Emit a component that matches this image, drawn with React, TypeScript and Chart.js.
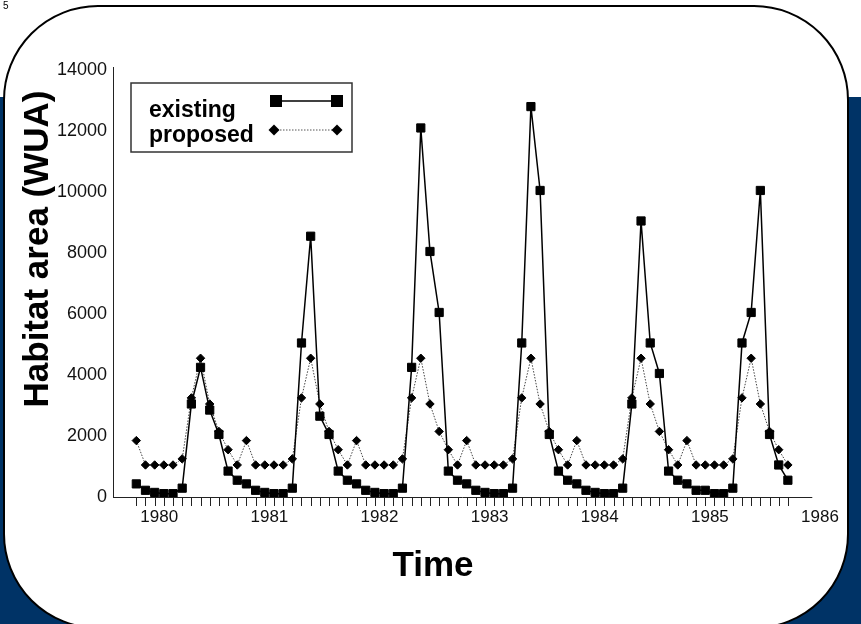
import React, { useEffect, useRef } from 'react';
import { Chart, registerables } from 'chart.js';

Chart.register(...registerables);

// ---- data -----------------------------------------------------------
const SERIES_NAMES = ['existing', 'proposed'];
const MONTHS = ['Oct', 'Nov', 'Dec', 'Jan', 'Feb', 'Mar', 'Apr', 'May', 'Jun', 'Jul', 'Aug', 'Sep'];
const WATER_YEARS = [1980, 1981, 1982, 1983, 1984, 1985];
const YEAR_TICKS = [1980, 1981, 1982, 1983, 1984, 1985, 1986];
const Y_TICKS = [0, 2000, 4000, 6000, 8000, 10000, 12000, 14000];

// existing habitat area (WUA), one array per water year (Oct..Sep)
const existing1980 = [430, 220, 150, 110, 110, 290, 3050, 4250, 2850, 2050, 850, 550];
const existing1981 = [430, 220, 150, 110, 110, 290, 5050, 8550, 2650, 2050, 850, 550];
const existing1982 = [430, 220, 150, 110, 110, 290, 4250, 12100, 8050, 6050, 850, 550];
const existing1983 = [430, 220, 150, 110, 110, 290, 5050, 12800, 10050, 2050, 850, 550];
const existing1984 = [430, 220, 150, 110, 110, 290, 3050, 9050, 5050, 4050, 850, 550];
const existing1985 = [430, 220, 220, 110, 110, 290, 5050, 6050, 10050, 2050, 1050, 550];

// proposed habitat area (WUA)
const proposed1980 = [1850, 1050, 1050, 1050, 1050, 1250, 3250, 4550, 3050, 2150, 1550, 1050];
const proposed1981 = [1850, 1050, 1050, 1050, 1050, 1250, 3250, 4550, 3050, 2150, 1550, 1050];
const proposed1982 = [1850, 1050, 1050, 1050, 1050, 1250, 3250, 4550, 3050, 2150, 1550, 1050];
const proposed1983 = [1850, 1050, 1050, 1050, 1050, 1250, 3250, 4550, 3050, 2150, 1550, 1050];
const proposed1984 = [1850, 1050, 1050, 1050, 1050, 1250, 3250, 4550, 3050, 2150, 1550, 1050];
const proposed1985 = [1850, 1050, 1050, 1050, 1050, 1250, 3250, 4550, 3050, 2150, 1550, 1050];

const existing = [
  ...existing1980, ...existing1981, ...existing1982,
  ...existing1983, ...existing1984, ...existing1985,
];
const proposed = [
  ...proposed1980, ...proposed1981, ...proposed1982,
  ...proposed1983, ...proposed1984, ...proposed1985,
];

// month positions in decimal years (mid-month), Oct of previous calendar year .. Sep
const monthX: number[] = [];
WATER_YEARS.forEach((wy) => {
  MONTHS.forEach((_, m) => {
    monthX.push(wy - 1 + (9 + m + 0.5) / 12);
  });
});

// axis configuration
const X_MIN = 1979.58;
const X_MAX = 1986;
const X_AXIS_END = 1985.93;
const FONT = '"Liberation Sans", Arial, Helvetica, sans-serif';

const framePlugin = {
  id: 'frame',
  beforeDraw(chart: any) {
    const { ctx, width, height } = chart;
    ctx.save();
    ctx.fillStyle = '#ffffff';
    ctx.fillRect(0, 0, width, height);
    ctx.fillStyle = '#003366';
    ctx.fillRect(0, 97, width, height - 97);
    // rounded white panel
    const x0 = 4, y0 = 6, x1 = 848, y1 = 628, r = 94;
    ctx.beginPath();
    ctx.moveTo(x0 + r, y0);
    ctx.lineTo(x1 - r, y0);
    ctx.arcTo(x1, y0, x1, y0 + r, r);
    ctx.lineTo(x1, y1 - r);
    ctx.arcTo(x1, y1, x1 - r, y1, r);
    ctx.lineTo(x0 + r, y1);
    ctx.arcTo(x0, y1, x0, y1 - r, r);
    ctx.lineTo(x0, y0 + r);
    ctx.arcTo(x0, y0, x0 + r, y0, r);
    ctx.closePath();
    ctx.fillStyle = '#ffffff';
    ctx.fill();
    ctx.lineWidth = 2;
    ctx.strokeStyle = '#000000';
    ctx.stroke();
    // slide number
    ctx.fillStyle = '#000';
    ctx.font = `10px ${FONT}`;
    ctx.textAlign = 'left';
    ctx.textBaseline = 'top';
    ctx.fillText('5', 3, 1);
    ctx.restore();
  },
};

function drawSquare(ctx: CanvasRenderingContext2D, x: number, y: number, s: number) {
  ctx.fillRect(x - s / 2, y - s / 2, s, s);
}
function drawDiamond(ctx: CanvasRenderingContext2D, x: number, y: number, r: number) {
  ctx.beginPath();
  ctx.moveTo(x, y - r);
  ctx.lineTo(x + r, y);
  ctx.lineTo(x, y + r);
  ctx.lineTo(x - r, y);
  ctx.closePath();
  ctx.fill();
}

const overlayPlugin = {
  id: 'overlay',
  afterDraw(chart: any) {
    const { ctx, chartArea } = chart;
    const xs = chart.scales.x;
    ctx.save();
    // small extension of the y axis line above the top tick
    ctx.strokeStyle = '#222';
    ctx.lineWidth = 1;
    ctx.beginPath();
    ctx.moveTo(chartArea.left + 0.5, chartArea.top - 3);
    ctx.lineTo(chartArea.left + 0.5, chartArea.top + 1);
    ctx.stroke();
    // x axis line
    ctx.beginPath();
    ctx.moveTo(chartArea.left, chartArea.bottom + 0.5);
    ctx.lineTo(xs.getPixelForValue(X_AXIS_END), chartArea.bottom + 0.5);
    ctx.stroke();
    // monthly tick marks
    ctx.beginPath();
    monthX.forEach((v) => {
      const px = Math.round(xs.getPixelForValue(v)) + 0.5;
      ctx.moveTo(px, chartArea.bottom);
      ctx.lineTo(px, chartArea.bottom + 9);
    });
    ctx.stroke();

    // axis titles
    ctx.fillStyle = '#000';
    ctx.font = `bold 35px ${FONT}`;
    ctx.textAlign = 'center';
    ctx.textBaseline = 'middle';
    ctx.save();
    ctx.translate(38, 249);
    ctx.rotate(-Math.PI / 2);
    ctx.fillText('Habitat area (WUA)', 0, 0);
    ctx.restore();
    ctx.font = `bold 35px ${FONT}`;
    ctx.fillText('Time', 433, 566);

    // legend
    ctx.lineWidth = 1.5;
    ctx.strokeStyle = '#333';
    ctx.fillStyle = '#fff';
    ctx.fillRect(131, 83, 221, 69);
    ctx.strokeRect(131, 83, 221, 69);
    ctx.fillStyle = '#000';
    ctx.font = `bold 23px ${FONT}`;
    ctx.textAlign = 'left';
    ctx.textBaseline = 'alphabetic';
    ctx.fillText(SERIES_NAMES[0], 149, 117);
    ctx.fillText(SERIES_NAMES[1], 149, 142);
    // existing sample
    ctx.strokeStyle = '#000';
    ctx.lineWidth = 1.5;
    ctx.beginPath();
    ctx.moveTo(276, 101);
    ctx.lineTo(337, 101);
    ctx.stroke();
    drawSquare(ctx, 276, 101, 12);
    drawSquare(ctx, 337, 101, 12);
    // proposed sample
    ctx.strokeStyle = '#555';
    ctx.lineWidth = 1;
    ctx.setLineDash([1.5, 1.5]);
    ctx.beginPath();
    ctx.moveTo(274, 130);
    ctx.lineTo(337, 130);
    ctx.stroke();
    ctx.setLineDash([]);
    drawDiamond(ctx, 274, 130, 5.5);
    drawDiamond(ctx, 337, 130, 5.5);
    ctx.restore();
  },
};

export default function App() {
  const ref = useRef<HTMLCanvasElement>(null);
  useEffect(() => {
    const canvas = ref.current;
    if (!canvas) return;
    const chart = new Chart(canvas, {
      type: 'line',
      data: {
        datasets: [
          {
            label: SERIES_NAMES[0],
            data: existing.map((y, i) => ({ x: monthX[i], y })),
            borderColor: '#000',
            backgroundColor: '#000',
            borderWidth: 1.5,
            pointStyle: 'rect',
            pointRadius: 5.8,
            pointBorderWidth: 1,
            pointBackgroundColor: '#000',
            pointBorderColor: '#000',
            tension: 0,
            fill: false,
          },
          {
            label: SERIES_NAMES[1],
            data: proposed.map((y, i) => ({ x: monthX[i], y })),
            borderColor: '#444',
            backgroundColor: '#000',
            borderWidth: 1,
            borderDash: [1.5, 1.5],
            pointStyle: 'rectRot',
            pointRadius: 4.2,
            pointBorderWidth: 1,
            pointBackgroundColor: '#000',
            pointBorderColor: '#000',
            tension: 0,
            fill: false,
          },
        ],
      },
      options: {
        responsive: false,
        animation: false,
        devicePixelRatio: 1,
        layout: { padding: { top: 70, right: 41, bottom: 0, left: 0 } },
        plugins: {
          legend: { display: false },
          tooltip: { enabled: false },
          title: { display: false },
        },
        scales: {
          x: {
            type: 'linear',
            min: X_MIN,
            max: X_MAX,
            afterBuildTicks: (s: any) => {
              s.ticks = YEAR_TICKS.map((v) => ({ value: v }));
            },
            afterFit: (s: any) => {
              s.height = 127;
            },
            grid: { display: false, drawTicks: false },
            border: { display: false },
            ticks: {
              padding: 10,
              autoSkip: false,
              maxRotation: 0,
              color: '#111',
              font: { family: FONT, size: 17 },
              callback: (v: any) => String(v),
            },
          },
          y: {
            type: 'linear',
            min: 0,
            max: 14000,
            afterBuildTicks: (s: any) => {
              s.ticks = Y_TICKS.map((v) => ({ value: v }));
            },
            afterFit: (s: any) => {
              s.width = 113;
            },
            grid: { display: false, drawTicks: false },
            border: { display: true, color: '#222', width: 1 },
            ticks: {
              padding: 6,
              color: '#111',
              font: { family: FONT, size: 18 },
              callback: (v: any) => String(v),
            },
          },
        },
      },
      plugins: [framePlugin, overlayPlugin],
    });
    return () => chart.destroy();
  }, []);
  return (
    <canvas
      ref={ref}
      width={861}
      height={624}
      style={{ position: 'fixed', left: 0, top: 0, display: 'block' }}
    />
  );
}
